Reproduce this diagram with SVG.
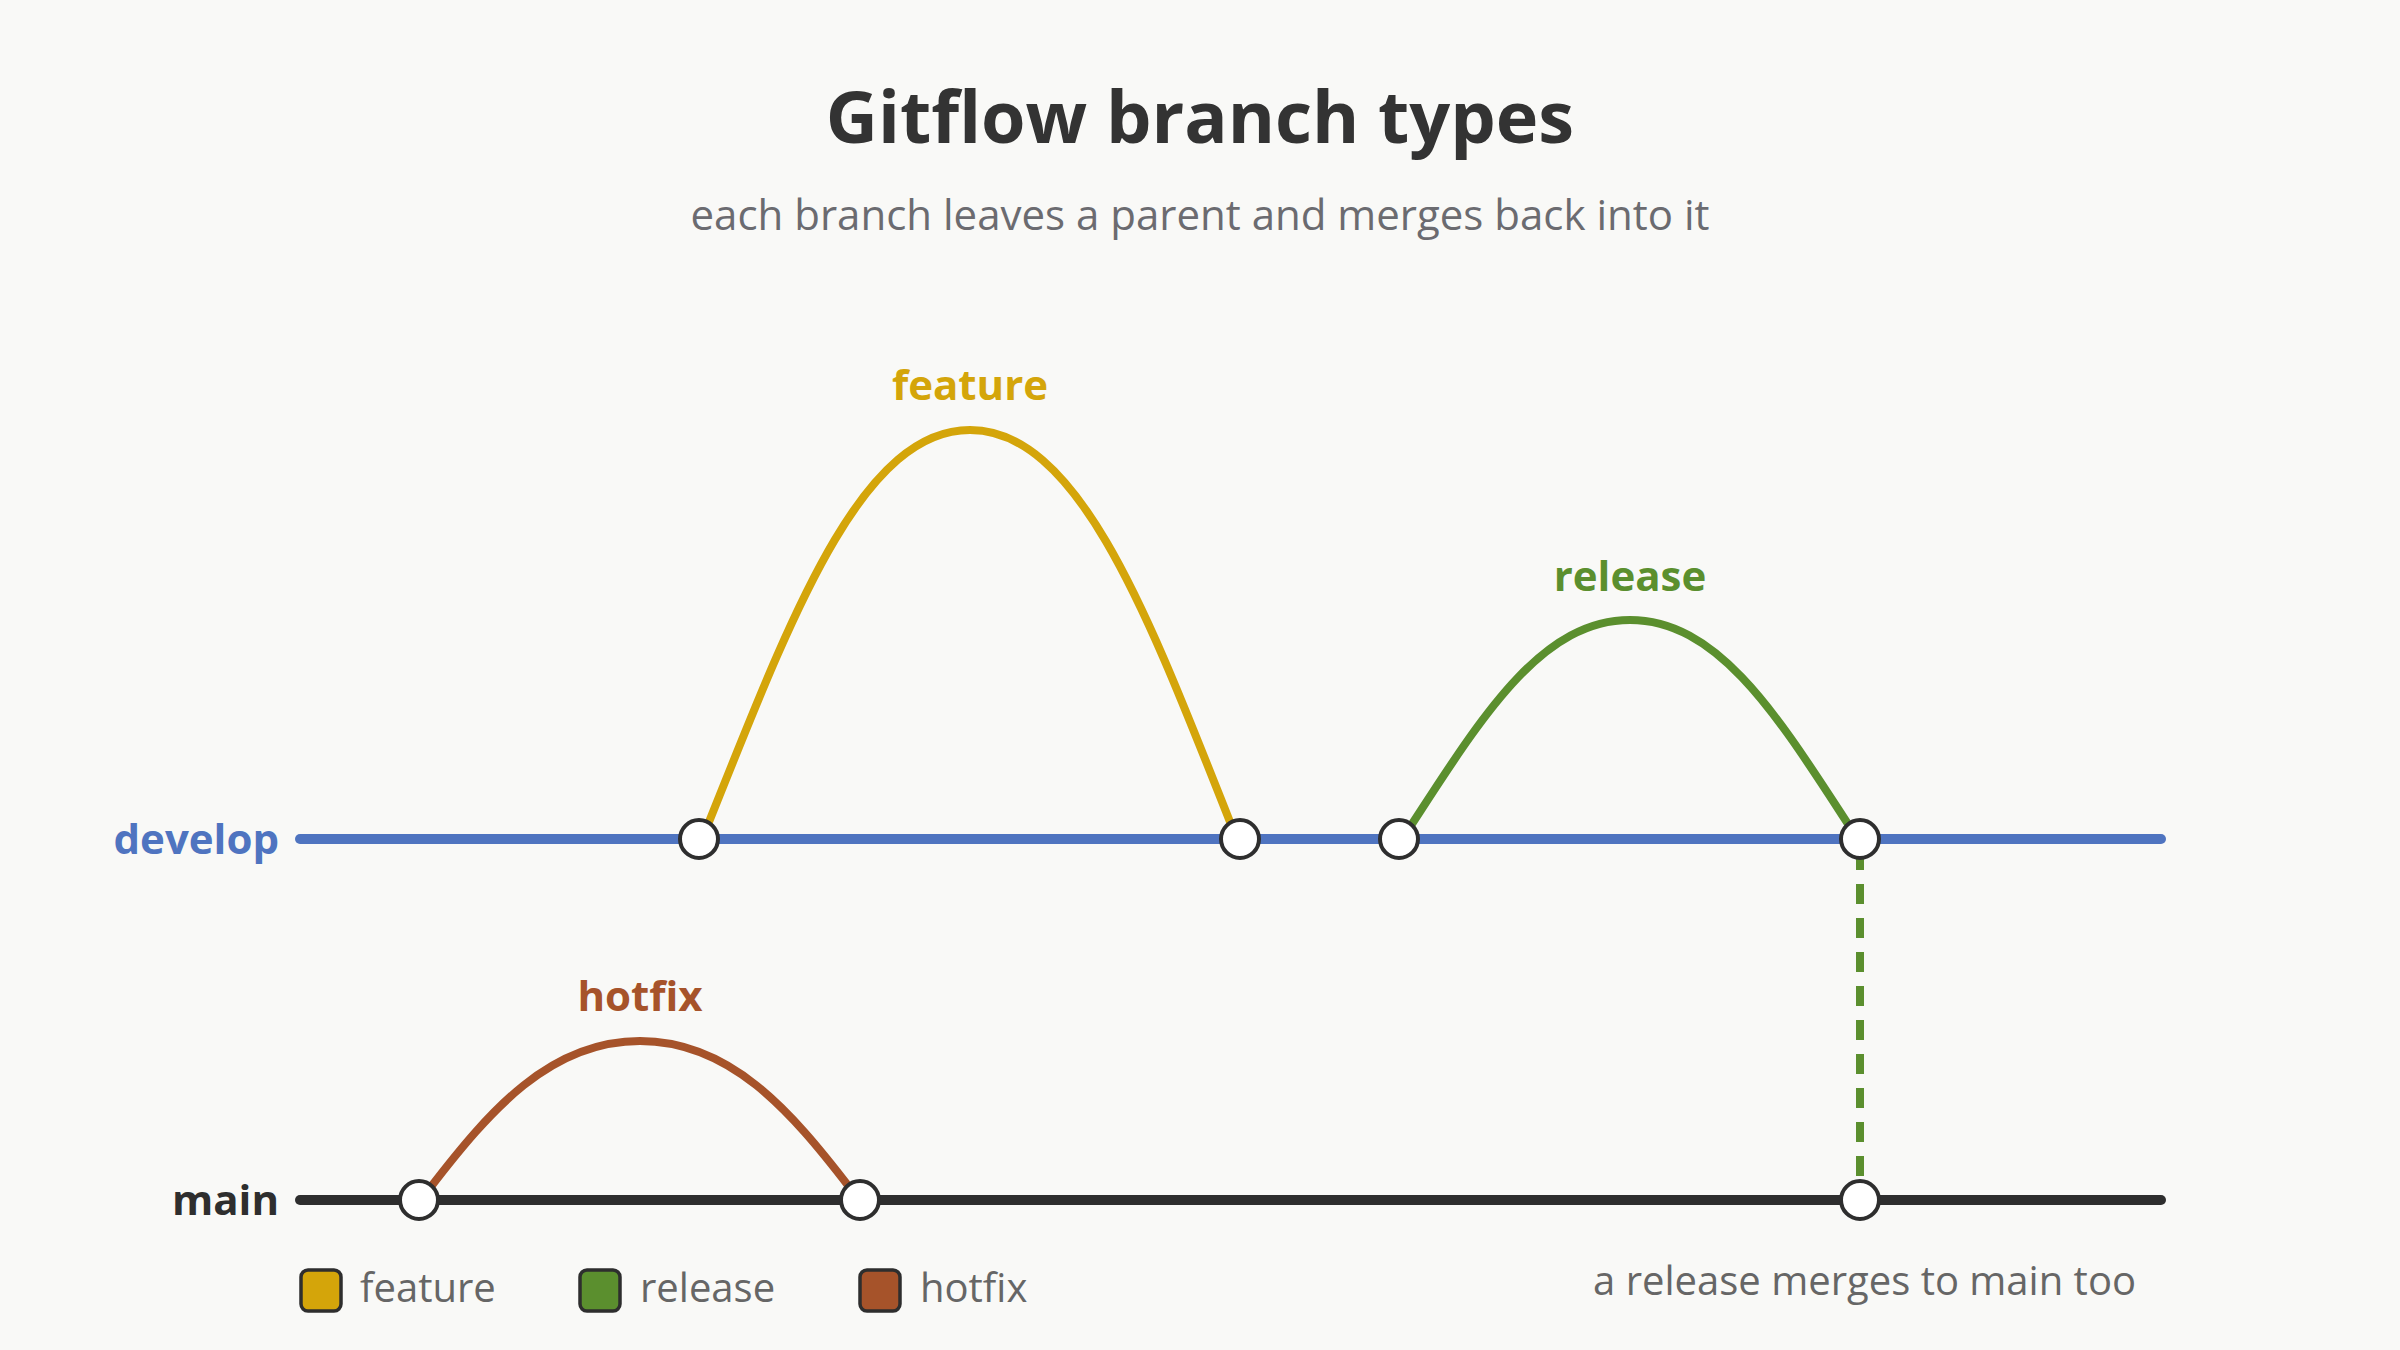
<svg xmlns="http://www.w3.org/2000/svg" width="2400" height="1350" viewBox="0 0 2400 1350">
<style>
text{font-family:"Open Sans","Noto Sans",sans-serif}
.t{font-size:72px;font-weight:700;fill:#333;text-anchor:middle}
.s{font-size:42px;fill:#6b6b70;text-anchor:middle}
.bl{font-size:42px;font-weight:700;text-anchor:end}
.lbl{font-size:42px;font-weight:700;text-anchor:middle}
.lg{font-size:40px;fill:#666}
.node{fill:#fff;stroke:#2e2e2e;stroke-width:4}
.br{fill:none;stroke-width:8;stroke-linecap:round}
.sw{stroke:#2e2e2e;stroke-width:3.5}
</style>
<rect width="2400" height="1350" fill="#f9f9f7"/>
<text class="t" x="1200" y="143">Gitflow branch types</text>
<text class="s" x="1200" y="230">each branch leaves a parent and merges back into it</text>
<g id="connectors">
<line x1="300" y1="839" x2="2161" y2="839" stroke="#4f74c0" stroke-width="10" stroke-linecap="round"/>
<line x1="300" y1="1200" x2="2161" y2="1200" stroke="#2e2e2e" stroke-width="10" stroke-linecap="round"/>
<path class="br" stroke="#d4a50a" d="M707,827 C790,620 860,430 970,430 C1080,430 1150,620 1232,827"/>
<path class="br" stroke="#5b8f2e" d="M1410,827 C1480,720 1540,620 1630,620 C1720,620 1780,720 1850,827"/>
<path class="br" stroke="#a6532a" d="M430,1188 C490,1110 550,1041 640,1041 C730,1041 790,1110 850,1188"/>
<line x1="1860" y1="850" x2="1860" y2="1185" stroke="#5b8f2e" stroke-width="8" stroke-dasharray="20,14"/>
</g>
<text class="bl" x="279" y="854" fill="#4f74c0">develop</text>
<text class="bl" x="279" y="1215" fill="#2e2e2e">main</text>
<text class="lbl" x="970" y="400" fill="#d4a50a">feature</text>
<text class="lbl" x="1630" y="591" fill="#5b8f2e">release</text>
<text class="lbl" x="640" y="1011" fill="#a6532a">hotfix</text>
<g id="n1"><circle class="node" cx="699" cy="839" r="19"/></g>
<g id="n2"><circle class="node" cx="1240" cy="839" r="19"/></g>
<g id="n3"><circle class="node" cx="1399" cy="839" r="19"/></g>
<g id="n4"><circle class="node" cx="1860" cy="839" r="19"/></g>
<g id="m1"><circle class="node" cx="419" cy="1200" r="19"/></g>
<g id="m2"><circle class="node" cx="860" cy="1200" r="19"/></g>
<g id="m3"><circle class="node" cx="1860" cy="1200" r="19"/></g>
<g id="legend">
<rect class="sw" x="301" y="1270" width="40" height="41" rx="7" fill="#d4a50a"/>
<text class="lg" x="360" y="1302">feature</text>
<rect class="sw" x="580" y="1270" width="40" height="41" rx="7" fill="#5b8f2e"/>
<text class="lg" x="640" y="1302">release</text>
<rect class="sw" x="860" y="1270" width="40" height="41" rx="7" fill="#a6532a"/>
<text class="lg" x="920" y="1302">hotfix</text>
</g>
<text class="lg" x="2136" y="1295" text-anchor="end">a release merges to main too</text>
</svg>
